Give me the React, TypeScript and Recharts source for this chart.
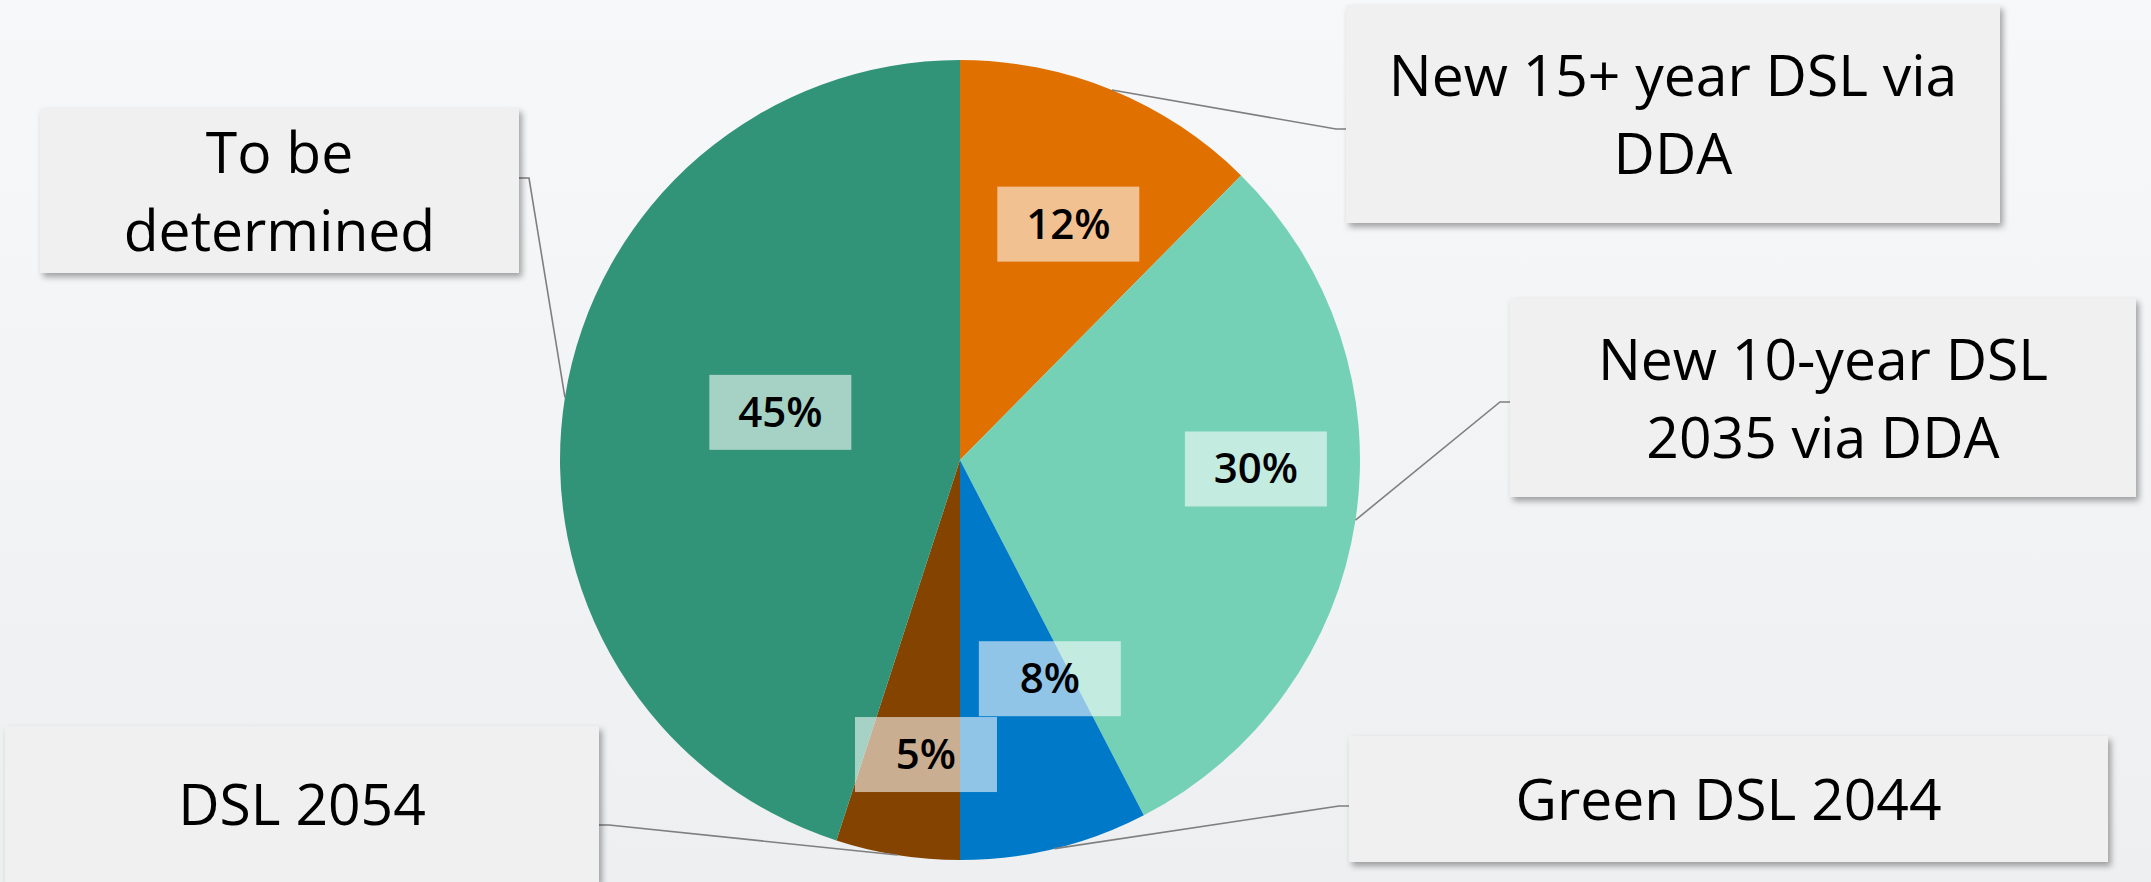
import React from 'react';
import { PieChart, Pie, Cell } from 'recharts';

// shares (percent of total)
const SEGMENTS = ['New 15+ year DSL via DDA', 'New 10-year DSL 2035 via DDA', 'Green DSL 2044', 'DSL 2054', 'To be determined'];
const SHARES = [12.4, 30.0, 7.6, 5.0, 45.0];
const CALLOUT_LINES = [
  ['New 15+ year DSL via', 'DDA'],
  ['New 10-year DSL', '2035 via DDA'],
  ['Green DSL 2044'],
  ['DSL 2054'],
  ['To be', 'determined'],
];
const COLORS = ['#E07000', '#74D1B6', '#007AC8', '#854300', '#319478'];

// callout box placement (layout only)
const CALLOUTS = [
  { x: 1346, y: 5, w: 654, h: 218, ay: 129, side: 'left' },
  { x: 1510, y: 298, w: 626, h: 199, ay: 402, side: 'left' },
  { x: 1349, y: 736, w: 759, h: 126, ay: 806, side: 'left' },
  { x: 5, y: 726, w: 594, h: 156, ay: 825, side: 'right' },
  { x: 40, y: 108, w: 479, h: 165, ay: 178, side: 'right' },
];
// inner percent label: radius fraction and angle nudge (deg, clockwise)
const PCT_POS = [
  { rf: 0.65, da: 2.3 },
  { rf: 0.74, da: -7 },
  { rf: 0.59, da: -8.7 },
  { rf: 0.74, da: -2.4 },
  { rf: 0.465, da: 6 },
];

const RADIAN = Math.PI / 180;
const FONT = '"Open Sans", "Noto Sans", sans-serif';
const LINE_H = 78;

const data = SEGMENTS.map((name, i) => ({ name, value: SHARES[i] }));

const polar = (cx: number, cy: number, r: number, angle: number) => ({
  x: cx + r * Math.cos(-angle * RADIAN),
  y: cy + r * Math.sin(-angle * RADIAN),
});

const renderLabel = (props: any) => {
  const { cx, cy, midAngle, outerRadius, percent, index } = props;
  const box = CALLOUTS[index];
  const lines = CALLOUT_LINES[index];
  const p0 = polar(cx, cy, outerRadius, midAngle);
  const edgeX = box.side === 'left' ? box.x : box.x + box.w;
  const elbowX = box.side === 'left' ? edgeX - 10 : edgeX + 10;
  const midY = box.y + box.h / 2;
  const firstBase = midY - ((lines.length - 1) * LINE_H) / 2 + 21;

  const pp = PCT_POS[index];
  const pc = polar(cx, cy, outerRadius * pp.rf, midAngle - pp.da);

  return (
    <g key={`lbl-${index}`}>
      <polyline
        points={`${p0.x},${p0.y} ${elbowX},${box.ay} ${edgeX},${box.ay}`}
        fill="none"
        stroke="#7F7F7F"
        strokeWidth={1.6}
      />
      <rect x={box.x} y={box.y} width={box.w} height={box.h} fill="#F0F0F0" filter="url(#boxShadow)" />
      <text
        x={box.x + box.w / 2}
        textAnchor="middle"
        fontFamily={FONT}
        fontSize={57}
        fill="#000"
      >
        {lines.map((ln, i) => (
          <tspan key={i} x={box.x + box.w / 2} y={firstBase + i * LINE_H}>
            {ln}
          </tspan>
        ))}
      </text>
      <rect x={pc.x - 71} y={pc.y - 37} width={142} height={75} fill="#FFFFFF" fillOpacity={0.57} />
      <text
        x={pc.x}
        y={pc.y + 15}
        textAnchor="middle"
        fontFamily={FONT}
        fontWeight={600}
        fontSize={42}
        fill="#000"
      >
        {`${Math.round(percent * 100)}%`}
      </text>
    </g>
  );
};

const App = () => {
  return (
    <div
      style={{
        position: 'fixed',
        left: 0,
        top: 0,
        width: 2151,
        height: 882,
        overflow: 'hidden',
        background: 'linear-gradient(180deg, #F7F8F9 0%, #F2F3F4 55%, #EEEFF0 100%)',
      }}
    >
      <svg width={0} height={0} style={{ position: 'absolute' }}>
        <defs>
          <filter id="boxShadow" x="-5%" y="-5%" width="115%" height="120%">
            <feDropShadow dx={3} dy={4} stdDeviation={3} floodColor="#000" floodOpacity={0.35} />
          </filter>
        </defs>
      </svg>
      <PieChart width={2151} height={882} margin={{ top: 0, right: 0, bottom: 0, left: 0 }}>
        <Pie
          data={data}
          dataKey="value"
          nameKey="name"
          cx={960}
          cy={460}
          outerRadius={400}
          startAngle={90}
          endAngle={-270}
          stroke="none"
          labelLine={false}
          label={renderLabel}
          isAnimationActive={false}
        >
          {data.map((entry, index) => (
            <Cell key={`cell-${index}`} fill={COLORS[index % COLORS.length]} />
          ))}
        </Pie>
      </PieChart>
    </div>
  );
};

export default App;
